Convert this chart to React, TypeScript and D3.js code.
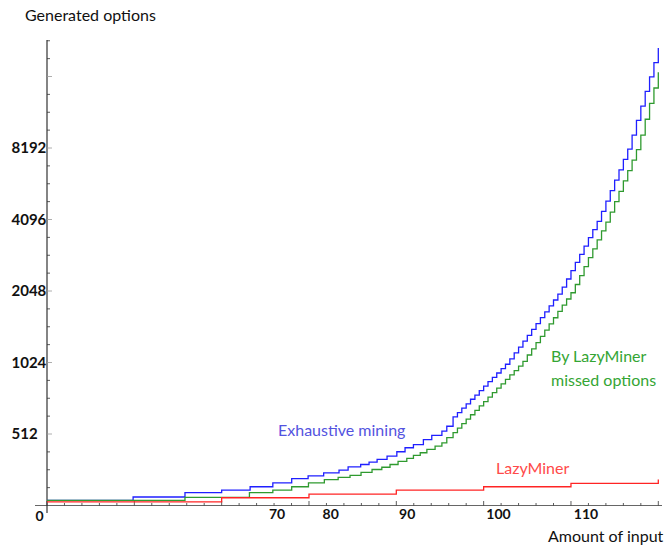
import * as d3 from "d3";
import { useRef, useEffect } from "react";

// x is measured in axis tick units (one minor tick = 1)
const blueX = [0, 4.93, 7.9, 10, 11.63, 12.93, 14.01, 14.95, 15.84, 16.72, 17.24, 17.96, 18.44, 18.9, 19.47, 20.03, 20.5, 20.98, 21.55, 22.03, 22.61, 22.89,
  23.25, 23.5, 23.75, 24, 24.25, 24.5, 24.75, 25, 25.25, 25.5, 25.75, 26, 26.25, 26.5, 26.75, 27, 27.25, 27.5, 27.75, 28, 28.25, 28.5, 28.75, 29, 29.25, 29.5, 29.75, 30,
  30.25, 30.5, 30.75, 31, 31.25, 31.5, 31.75, 32, 32.25, 32.5, 32.75, 33, 33.25, 33.5, 33.75, 34, 34.25, 34.5, 34.75, 35];
const blueY = [269, 278, 290, 297, 307, 319, 332, 341, 351, 361, 372, 381, 390, 400, 413, 431, 448, 462, 485, 505, 526, 552,
  604, 630, 658, 686, 717, 747, 780, 814, 850, 887, 925, 965, 1007, 1061, 1124, 1189, 1259, 1333, 1411, 1494, 1582, 1674, 1773, 1877, 1988, 2128, 2301, 2494,
  2702, 2923, 3167, 3433, 3712, 4022, 4431, 4894, 5417, 5998, 6622, 7332, 8097, 9288, 10706, 12296, 14172, 16328, 18755, 21619];

const greenX = [0, 7.9, 11.59, 12.93, 14.01, 14.97, 15.88, 16.67, 17.35, 17.98, 18.61, 19.17, 19.64, 20.1, 20.6, 20.98, 21.37, 21.75, 22.22, 22.61, 22.89,
  23.25, 23.5, 23.75, 24, 24.25, 24.5, 24.75, 25, 25.25, 25.5, 25.75, 26, 26.25, 26.5, 26.75, 27, 27.25, 27.5, 27.75, 28, 28.25, 28.5, 28.75, 29, 29.25, 29.5, 29.75, 30,
  30.25, 30.5, 30.75, 31, 31.25, 31.5, 31.75, 32, 32.25, 32.5, 32.75, 33, 33.25, 33.5, 33.75, 34, 34.25, 34.5, 34.75, 35];
const greenY = [269, 277, 290, 297, 307, 319, 329, 336, 343, 353, 363, 371, 381, 393, 404, 416, 427, 441, 455, 470, 494,
  519, 542, 566, 591, 617, 644, 672, 701, 732, 764, 798, 833, 869, 908, 947, 988, 1035, 1101, 1168, 1242, 1320, 1401, 1489, 1580, 1680, 1785, 1895, 2014,
  2181, 2376, 2593, 2829, 3080, 3359, 3666, 3991, 4401, 4871, 5379, 5955, 6576, 7281, 8061, 9287, 10824, 12616, 14653, 17080];

const redX = [0, 10, 15, 20, 25, 30, 35, 35];
const redY = [265, 276, 286, 297, 307, 317, 317, 329];

const yTickValues = [512, 1024, 2048, 4096, 8192];
const xLabelPos = [-0.42, 13.17, 16.24, 20.62, 25.85, 30.86];
const xLabels = ["0", "70", "80", "90", "100", "110"];

const FONT = "Lato, 'Open Sans', sans-serif";

export default function App() {
  const svgRef = useRef(null);
  const width = 667;
  const height = 549;

  useEffect(() => {
    const svg = d3.select(svgRef.current);
    svg.selectAll("*").remove();

    const x = d3.scaleLinear().domain([0, 35]).range([47, 658.3]);
    const y = d3.scaleLog().base(2).domain([256, 16384]).range([505.5, 76.5]);

    const axisColor = "#333";

    // axes lines
    svg.append("line")
      .attr("x1", 35).attr("x2", 662)
      .attr("y1", y(256)).attr("y2", y(256))
      .attr("stroke", "#666").attr("stroke-width", 1);
    svg.append("line")
      .attr("x1", x(0)).attr("x2", x(0))
      .attr("y1", 40).attr("y2", 513)
      .attr("stroke", axisColor).attr("stroke-width", 1.2);

    // x ticks
    svg.append("g")
      .selectAll("line")
      .data(d3.range(0, 36))
      .join("line")
        .attr("x1", d => x(d)).attr("x2", d => x(d))
        .attr("y1", y(256))
        .attr("y2", d => y(256) - (d % 5 === 0 ? 4.5 : 2.5))
        .attr("stroke", axisColor).attr("stroke-width", 0.8);

    // y ticks (quarter octaves)
    svg.append("g")
      .selectAll("line")
      .data(d3.range(1, 27))
      .join("line")
        .attr("x1", x(0))
        .attr("x2", k => x(0) + (k % 4 === 0 ? 5 : 3))
        .attr("y1", k => y(256 * 2 ** (k / 4)))
        .attr("y2", k => y(256 * 2 ** (k / 4)))
        .attr("stroke", k => (k % 4 === 0 ? "#999" : axisColor))
        .attr("stroke-width", 0.8);

    // y tick labels
    svg.append("g")
      .selectAll("text")
      .data(yTickValues)
      .join("text")
        .attr("x", 11.5)
        .attr("y", d => y(d))
        .attr("dy", "0.36em")
        .attr("font-family", FONT)
        .attr("font-weight", "bold")
        .attr("font-size", 15)
        .attr("fill", "#111")
        .text(d => d);

    // x labels
    svg.append("g")
      .selectAll("text")
      .data(xLabels)
      .join("text")
        .attr("x", (d, i) => x(xLabelPos[i]))
        .attr("y", (d, i) => (i === 0 ? 521 : 519))
        .attr("text-anchor", "middle")
        .attr("font-family", FONT)
        .attr("font-weight", "bold")
        .attr("font-size", 14)
        .attr("fill", "#111")
        .text(d => d);

    const line = d3.line()
      .x(d => x(d[0]))
      .y(d => y(d[1]))
      .curve(d3.curveStepAfter);

    const series = [
      { xs: blueX, ys: blueY, color: "#1f1fff" },
      { xs: greenX, ys: greenY, color: "#2f9a2f" },
      { xs: redX, ys: redY, color: "#ff2424" },
    ];

    svg.append("g")
      .selectAll("path")
      .data(series)
      .join("path")
        .attr("d", s => line(s.xs.map((v, i) => [v, s.ys[i]])))
        .attr("fill", "none")
        .attr("stroke", s => s.color)
        .attr("stroke-width", 1.3);

    // titles
    svg.append("text")
      .attr("x", 25).attr("y", 21)
      .attr("font-family", FONT).attr("font-size", 16)
      .attr("fill", "#111")
      .text("Generated options");
    svg.append("text")
      .attr("x", 548).attr("y", 542)
      .attr("font-family", FONT).attr("font-size", 16)
      .attr("fill", "#111")
      .text("Amount of input");

    // series labels
    svg.append("text")
      .attr("x", 278).attr("y", 436)
      .attr("font-family", FONT).attr("font-size", 16)
      .attr("fill", "#5353e0")
      .text("Exhaustive mining");
    svg.append("text")
      .attr("x", 496).attr("y", 474)
      .attr("font-family", FONT).attr("font-size", 16)
      .attr("fill", "#ff4a4a")
      .text("LazyMiner");
    const g = svg.append("text")
      .attr("font-family", FONT).attr("font-size", 16)
      .attr("fill", "#34a534");
    g.append("tspan").attr("x", 551).attr("y", 362).text("By LazyMiner");
    g.append("tspan").attr("x", 551).attr("y", 386).text("missed options");
  }, []);

  return (
    <svg
      ref={svgRef}
      width={width}
      height={height}
      style={{ position: "absolute", left: 0, top: 0, background: "#fff" }}
    />
  );
}
